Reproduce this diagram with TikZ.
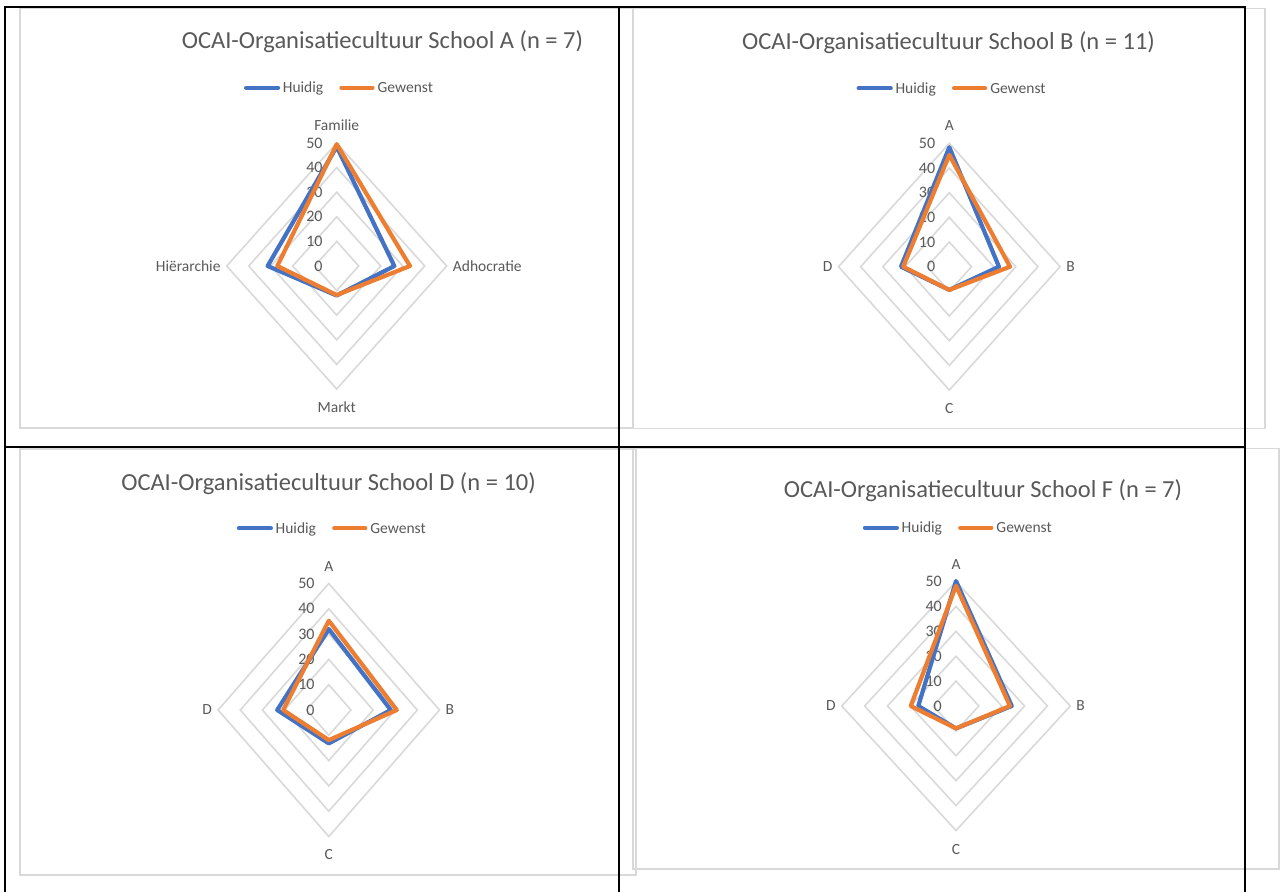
\documentclass[tikz,border=0pt]{standalone}
\usepackage{fontspec}
\setmainfont{Carlito}
\usetikzlibrary{positioning,calc}
\definecolor{xlblue}{HTML}{4472C4}
\definecolor{xlorange}{HTML}{ED7D31}
\definecolor{xlgrid}{HTML}{D9D9D9}
\definecolor{xltext}{HTML}{595959}
\newcommand{\spiderweb}[1]{%
\foreach \r in {10,20,...,50}
  \draw[ring] (0,\r) -- (\r,0) -- (0,-\r) -- (-\r,0) -- cycle;
\foreach \v in {0,10,...,50}
  \node[tick] (#1\v) at (0,\v) {\v};}
\newcommand{\chartlegend}[3]{%
\node[lgd,anchor=base west] (#1h) at (#2,#3) {Huidig};
\node[lgd,base right=54pt of #1h] (#1g) {Gewenst};
\draw[huidig,line cap=round] ([shift={(-4.6pt,5pt)}]#1h.base west) -- +(-32pt,0);
\draw[gewenst,line cap=round] ([shift={(-5pt,5pt)}]#1g.base west) -- +(-31pt,0);}

\begin{document}
\begin{tikzpicture}
[x=1pt,y=-1pt,
ring/.style={draw=xlgrid,line width=1.6pt},
huidig/.style={draw=xlblue,line width=4.2pt,line join=round},
gewenst/.style={draw=xlorange,line width=4.2pt,line join=round},
tick/.style={text=xltext,font=\fontsize{16}{18}\selectfont,inner sep=0,anchor=east,xshift=-14pt},
axlbl/.style={text=xltext,font=\fontsize{15.5}{18}\selectfont,inner sep=0},
lgd/.style={text=xltext,font=\fontsize{15.5}{18}\selectfont,inner sep=0},
charttitle/.style={text=xltext,font=\fontsize{24.5}{28}\selectfont,inner sep=0,anchor=base},
chartframe/.style={draw=xlgrid,line width=1.8pt},
tableline/.style={draw=black,line width=2.2pt,line cap=rect}]
\path[use as bounding box,fill=white] (0,0) rectangle (1281,891);
%%
\draw[chartframe] (20,8.5) rectangle (633,428);
\draw[chartframe] (633,8.5) rectangle (1265,428.5);
\draw[chartframe] (20,449) rectangle (636,875);
\draw[chartframe] (633,448.5) rectangle (1279,869);
%% School A
\node[charttitle] (titleA) at (382.5,48.3) {OCAI-Organisatiecultuur School A (n = 7)};
\chartlegend{legA}{282.7}{92.7}
\begin{scope}[shift={(336.7,266)},x=2.2pt,y=2.46pt]
\spiderweb{a}
\node[axlbl,anchor=base,yshift=12.5pt] (famA) at (0,50) {Familie};
\node[axlbl,anchor=west,xshift=6pt] (adhA) at (50,0) {Adhocratie};
\node[axlbl,anchor=base,yshift=-23.5pt] (mrkA) at (0,-50) {Markt};
\node[axlbl,anchor=east,xshift=-6pt] (hieA) at (-50,0) {Hiërarchie};
\draw[huidig] (0,48.5) -- (26.2,0) -- (0,-12) -- (-31.4,0) -- cycle;
\draw[gewenst] (0,49.5) -- (33.3,0) -- (0,-11.8) -- (-27,0) -- cycle;
\end{scope}
%% School B
\node[charttitle] (titleB) at (948.5,50) {OCAI-Organisatiecultuur School B (n = 11)};
\chartlegend{legB}{895.3}{93.3}
\begin{scope}[shift={(949.3,266.7)},x=2.216pt,y=2.468pt]
\spiderweb{b}
\node[axlbl,anchor=base,yshift=12.5pt] (aB) at (0,50) {A};
\node[axlbl,anchor=west,xshift=6pt] (bB) at (50,0) {B};
\node[axlbl,anchor=base,yshift=-23.5pt] (cB) at (0,-50) {C};
\node[axlbl,anchor=east,xshift=-6pt] (dB) at (-50,0) {D};
\draw[huidig] (0,48.4) -- (22.4,0) -- (0,-9.4) -- (-21.8,0) -- cycle;
\draw[gewenst] (0,45.3) -- (27.4,0) -- (0,-9.4) -- (-20.8,0) -- cycle;
\end{scope}
%% School D
\node[charttitle] (titleD) at (328.6,490) {OCAI-Organisatiecultuur School D (n = 10)};
\chartlegend{legD}{275.5}{533.3}
\begin{scope}[shift={(328.8,710)},x=2.214pt,y=2.53pt]
\spiderweb{d}
\node[axlbl,anchor=base,yshift=12pt] (aD) at (0,50) {A};
\node[axlbl,anchor=west,xshift=6pt] (bD) at (50,0) {B};
\node[axlbl,anchor=base,yshift=-23pt] (cD) at (0,-50) {C};
\node[axlbl,anchor=east,xshift=-6pt] (dD) at (-50,0) {D};
\draw[huidig] (0,32) -- (28,0) -- (0,-13.2) -- (-23.3,0) -- cycle;
\draw[gewenst] (0,35.3) -- (30.7,0) -- (0,-11.9) -- (-20.6,0) -- cycle;
\end{scope}
%% School F
\node[charttitle] (titleF) at (983,497.3) {OCAI-Organisatiecultuur School F (n = 7)};
\chartlegend{legF}{901.5}{532.7}
\begin{scope}[shift={(956,706)},x=2.285pt,y=2.49pt]
\spiderweb{f}
\node[axlbl,anchor=base,yshift=12.5pt] (aF) at (0,50) {A};
\node[axlbl,anchor=west,xshift=6pt] (bF) at (50,0) {B};
\node[axlbl,anchor=base,yshift=-23.5pt] (cF) at (0,-50) {C};
\node[axlbl,anchor=east,xshift=-6pt] (dF) at (-50,0) {D};
\draw[huidig] (0,50.2) -- (24.4,0) -- (0,-9) -- (-16.5,0) -- cycle;
\draw[gewenst] (0,48.3) -- (23.6,0) -- (0,-9) -- (-19.8,0) -- cycle;
\end{scope}
%%
\draw[tableline] (5,7) -- (1245,7);
\draw[tableline] (5,447) -- (1245,447);
\foreach \tx in {5,619,1245}
  \draw[tableline] (\tx,7) -- (\tx,891);
\end{tikzpicture}
\end{document}
